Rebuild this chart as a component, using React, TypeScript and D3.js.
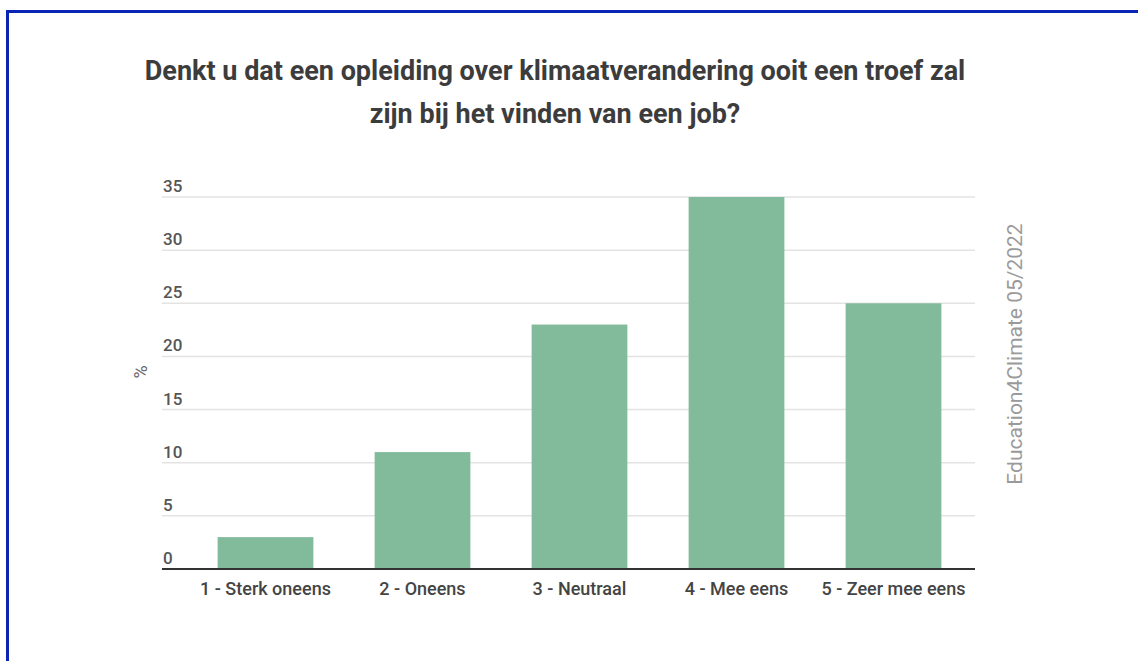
import * as d3 from 'd3';

const categories = ['1 - Sterk oneens', '2 - Oneens', '3 - Neutraal', '4 - Mee eens', '5 - Zeer mee eens'];
const values = [3, 11, 23, 35, 25];
const yTicks = [0, 5, 10, 15, 20, 25, 30, 35];
const titleLines = [
  'Denkt u dat een opleiding over klimaatverandering ooit een troef zal',
  'zijn bij het vinden van een job?',
];
const sourceNote = 'Education4Climate 05/2022';

const W = 1138;
const H = 661;
const gridLeft = 162;
const gridRight = 975;

export default function App() {
  const x = d3.scaleBand<string>().domain(categories).range([187, 972]).paddingInner(0.39).paddingOuter(0.195);
  const y = d3.scaleLinear().domain([0, 35]).range([569, 197]);

  return (
    <svg
      width={W}
      height={H}
      style={{ position: 'absolute', left: 0, top: 0, background: '#fff' }}
      fontFamily="Roboto, 'Noto Sans', sans-serif"
    >
      <rect x={0} y={0} width={W} height={H} fill="#fff" />
      <rect x={7.5} y={11.5} width={W + 20} height={H + 20} fill="none" stroke="#0a25b4" strokeWidth={3} />

      {titleLines.map((t, i) => (
        <text key={i} x={555} y={80 + i * 43} textAnchor="middle" fontSize={27} fontWeight="bold" fill="#3c3c3c">
          {t}
        </text>
      ))}

      {yTicks.map(t => (
        <g key={t}>
          {t > 0 && (
            <line x1={gridLeft} x2={gridRight} y1={y(t)} y2={y(t)} stroke="#e3e3e3" strokeWidth={1.5} />
          )}
          <text x={163} y={y(t) - 5} fontSize={17} fontWeight={500} fill="#555">
            {t}
          </text>
        </g>
      ))}

      {categories.map((c, i) => (
        <rect
          key={c}
          x={x(c)}
          y={y(values[i])}
          width={x.bandwidth()}
          height={y(0) - y(values[i])}
          fill="#82bb9c"
        />
      ))}

      <line x1={gridLeft} x2={gridRight} y1={y(0)} y2={y(0)} stroke="#333" strokeWidth={2} />

      {categories.map(c => (
        <text key={c} x={(x(c) as number) + x.bandwidth() / 2} y={595} textAnchor="middle" fontSize={18} fontWeight={500} fill="#444">
          {c}
        </text>
      ))}

      <text transform="translate(147,372) rotate(-90)" textAnchor="middle" fontSize={18} fill="#666">
        %
      </text>

      <text transform="translate(1022,354) rotate(-90)" textAnchor="middle" fontSize={21} fill="#9a9a9a">
        {sourceNote}
      </text>
    </svg>
  );
}
